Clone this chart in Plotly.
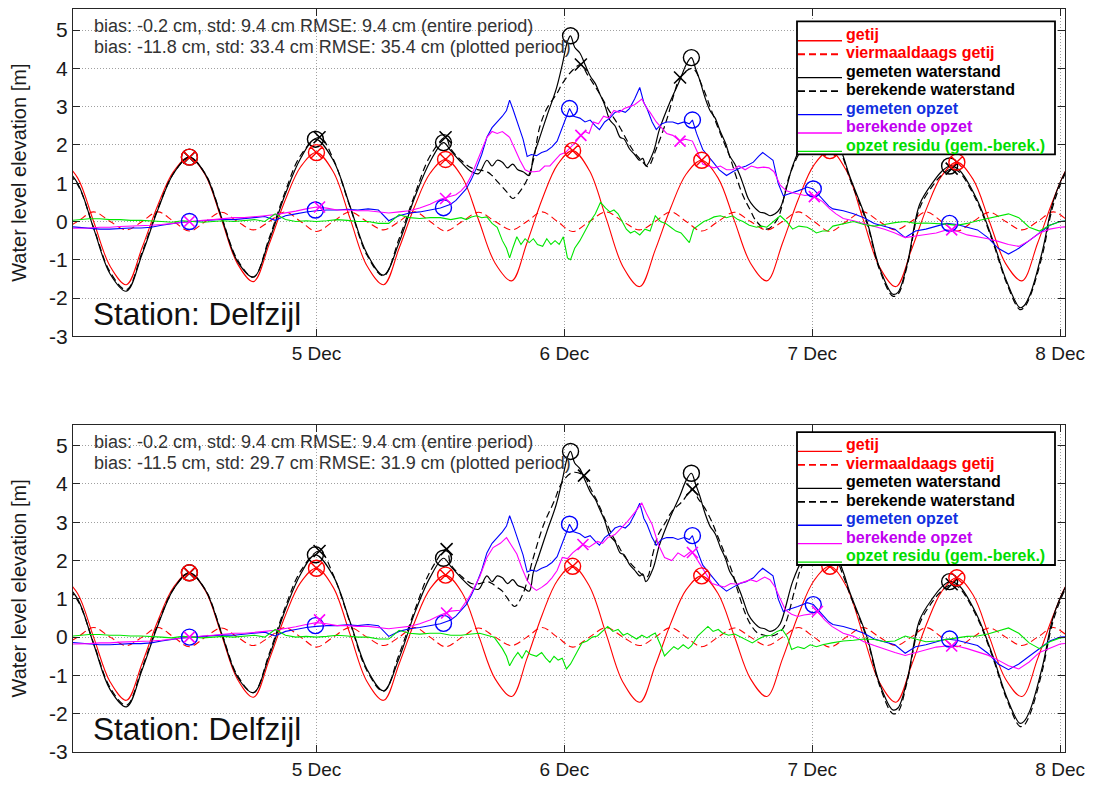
import pandas as pd
import plotly.graph_objects as go

# ------------------------------------------------------------------
# Data: hours since 4 Dec 2013 00:00 (MET), water levels in metres
# ------------------------------------------------------------------
T0 = pd.Timestamp("2013-12-04 00:00")

# astronomical tide (getij) and its quarter-diurnal component
getij_uur = [-0.7, 0.875, 2.45, 4.025, 5.6, 7.125, 8.65, 10.175,
             11.7, 13.25, 14.8, 16.35, 17.9, 19.425, 20.95, 22.475,
             24.0, 25.625, 27.25, 28.875, 30.5, 32.0, 33.5, 35.0,
             36.5, 38.1, 39.7, 41.3, 42.9, 44.375, 45.85, 47.325,
             48.8, 50.425, 52.05, 53.675, 55.3, 56.8, 58.3, 59.8,
             61.3, 62.875, 64.45, 66.025, 67.6, 69.125, 70.65, 72.175,
             73.7, 75.3, 76.9, 78.5, 80.1, 81.575, 83.05, 84.525,
             86.0, 87.575, 89.15, 90.725, 92.3, 93.825, 95.35, 96.875,
             98.4]
getij = [1.62, 1.14, -0.02, -1.17, -1.65, -0.68, 0.43, 1.31,
         1.68, 1.21, 0.06, -1.10, -1.57, -0.59, 0.54, 1.43,
         1.80, 1.30, 0.08, -1.15, -1.65, -0.70, 0.39, 1.26,
         1.62, 1.16, 0.04, -1.09, -1.55, -0.56, 0.58, 1.48,
         1.85, 1.33, 0.08, -1.18, -1.70, -0.74, 0.36, 1.24,
         1.60, 1.14, 0.03, -1.09, -1.55, -0.56, 0.58, 1.48,
         1.85, 1.33, 0.08, -1.18, -1.70, -0.76, 0.33, 1.19,
         1.55, 1.10, 0.00, -1.10, -1.55, -0.56, 0.58, 1.48,
         1.85]
viermaaldaags = [-0.25, 0.0, 0.25, 0.0, -0.22, 0.0, 0.25, 0.0,
                 -0.25, 0.0, 0.24, 0.0, -0.22, 0.0, 0.25, 0.0,
                 -0.26, 0.0, 0.25, 0.0, -0.22, 0.0, 0.25, 0.0,
                 -0.25, 0.0, 0.24, 0.0, -0.22, 0.0, 0.25, 0.0,
                 -0.26, 0.0, 0.25, 0.0, -0.22, 0.0, 0.25, 0.0,
                 -0.25, 0.0, 0.24, 0.0, -0.22, 0.0, 0.25, 0.0,
                 -0.26, 0.0, 0.25, 0.0, -0.22, 0.0, 0.25, 0.0,
                 -0.25, 0.0, 0.24, 0.0, -0.22, 0.0, 0.25, 0.0,
                 -0.26]

# measured water level (gemeten waterstand)
gemeten_waterstand = [
    (-0.7, 1.50), (0.875, 1.00), (2.45, -0.20), (4.025, -1.37), (5.6, -1.82),
    (7.125, -0.85), (8.65, 0.31), (10.175, 1.26), (11.7, 1.68), (13.25, 1.23),
    (14.8, 0.11), (16.35, -1.04), (17.9, -1.45), (19.425, -0.49), (20.95, 0.69),
    (22.475, 1.65), (23.9, 2.15), (25.625, 1.60), (27.25, 0.40), (28.875, -0.83),
    (30.5, -1.40), (32.0, -0.55), (33.5, 0.62), (35.0, 1.56), (36.3, 2.06),
    (37.0, 1.85), (38.0, 1.55), (39.0, 1.30), (39.7, 1.25), (40.5, 1.60),
    (41.0, 1.45), (41.5, 1.60), (42.0, 1.55), (42.5, 1.40), (43.0, 1.50),
    (43.5, 1.35), (44.0, 1.30), (44.6, 1.20), (45.0, 1.70), (45.5, 2.10),
    (46.3, 2.75), (47.2, 3.45), (47.8, 4.10), (48.3, 4.70), (48.6, 4.85),
    (49.0, 4.55), (49.5, 4.40), (50.0, 4.10), (50.5, 3.80), (51.0, 3.60),
    (51.4, 3.35), (51.9, 3.05), (52.4, 2.65), (52.9, 2.50), (53.4, 2.20),
    (53.8, 2.15), (54.3, 1.90), (54.8, 1.75), (55.3, 1.60), (55.6, 1.65),
    (55.9, 1.45), (56.6, 1.80), (57.2, 2.40), (58.2, 3.10), (59.2, 3.70),
    (59.8, 4.10), (60.3, 4.28), (60.7, 4.00), (61.1, 3.70), (61.6, 3.25),
    (62.1, 2.90), (62.6, 2.70), (63.1, 2.35), (63.6, 2.05), (64.0, 1.72),
    (64.5, 1.50), (65.0, 1.20), (65.4, 0.90), (65.8, 0.60), (66.3, 0.40),
    (66.9, 0.25), (67.4, 0.22), (67.9, 0.15), (68.4, 0.20), (68.9, 0.35),
    (70.1, 1.45), (71.0, 2.00), (72.0, 2.30), (73.2, 2.40), (74.2, 2.20),
    (75.0, 1.70), (75.6, 1.20), (77.3, 0.00), (78.5, -1.20), (79.8, -1.90),
    (80.3, -1.85), (81.2, -1.10), (82.4, 0.45), (83.7, 1.03), (84.5, 1.30),
    (85.3, 1.45), (86.2, 1.35), (87.9, 0.60), (89.5, -0.50), (90.8, -1.55),
    (92.1, -2.25), (92.5, -2.20), (93.1, -1.90), (94.3, -0.75), (95.3, 0.50),
    (96.5, 1.30), (97.5, 1.70)]

# computed water level (berekende waterstand): common start, then per model run
berekende_waterstand_begin = [
    (-0.7, 1.44), (0.875, 0.96), (2.45, -0.18), (4.025, -1.32), (5.6, -1.78),
    (7.125, -0.80), (8.65, 0.34), (10.175, 1.26), (11.7, 1.67), (13.25, 1.24),
    (14.8, 0.13), (16.35, -1.00), (17.9, -1.45), (19.425, -0.43), (20.95, 0.76),
    (22.475, 1.73)]
berekende_waterstand_run1 = [
    (24.3, 2.20), (25.625, 1.63), (27.25, 0.38), (28.875, -0.87), (30.5, -1.42),
    (32.0, -0.45), (33.5, 0.69), (35.0, 1.71), (36.5, 2.20),
    (37.0, 1.90), (38.0, 1.60), (39.0, 1.40), (39.7, 1.35), (40.5, 1.30),
    (41.0, 1.20), (41.5, 1.05), (42.0, 0.90), (42.5, 0.75), (43.0, 0.60),
    (43.6, 0.75), (44.4, 1.10), (45.0, 1.60), (45.6, 2.45), (46.3, 2.95),
    (47.3, 3.35), (47.8, 3.60), (48.8, 3.95), (49.6, 4.10), (50.2, 3.85),
    (50.8, 3.60), (51.5, 3.30), (52.1, 3.00), (52.8, 2.70), (53.4, 2.45),
    (54.0, 2.15), (54.6, 1.88), (55.1, 1.70), (55.6, 1.55), (56.1, 1.43),
    (56.9, 1.90), (57.9, 2.65), (58.7, 3.40), (59.2, 3.76), (60.4, 4.00),
    (61.4, 3.50), (62.1, 3.00), (62.8, 2.50), (63.4, 2.10), (64.0, 1.70),
    (64.6, 1.20), (65.3, 0.67), (66.0, 0.30), (66.6, 0.00), (67.6, -0.20),
    (68.6, 0.05), (69.8, 1.20), (71.0, 1.90), (72.0, 2.20), (73.2, 2.35),
    (74.2, 2.15), (75.0, 1.65), (75.6, 1.15), (77.3, -0.05), (78.5, -1.25),
    (79.8, -1.95), (80.3, -1.90), (81.2, -1.15), (82.4, 0.35), (83.7, 0.95),
    (84.5, 1.20), (85.5, 1.38), (86.2, 1.30), (87.9, 0.55), (89.5, -0.55),
    (90.8, -1.60), (92.1, -2.30), (92.5, -2.25), (93.1, -1.95), (94.3, -0.85),
    (95.3, 0.40), (96.5, 1.25), (97.5, 1.65)]
berekende_waterstand_run2 = [
    (24.3, 2.25), (25.625, 1.63), (27.25, 0.38), (28.875, -0.87), (30.5, -1.42),
    (32.0, -0.45), (33.5, 0.69), (35.0, 1.71), (36.6, 2.30),
    (37.0, 1.90), (38.0, 1.60), (39.0, 1.40), (39.8, 1.40), (40.5, 1.45),
    (41.0, 1.40), (41.5, 1.30), (42.0, 1.20), (42.4, 1.05), (43.2, 0.80),
    (44.0, 1.14), (45.0, 2.08), (46.0, 2.94), (47.0, 3.54), (47.8, 4.05),
    (48.8, 4.30), (49.9, 4.22), (50.5, 3.90), (51.2, 3.54), (51.9, 3.10),
    (52.6, 2.68), (53.2, 2.40), (53.9, 2.08), (54.5, 1.90), (55.1, 1.74),
    (56.0, 1.57), (56.5, 2.10), (57.1, 2.68), (57.8, 3.00), (58.4, 3.28),
    (59.4, 3.54), (60.4, 3.86), (61.0, 3.60), (61.6, 3.37), (62.3, 3.00),
    (62.9, 2.60), (63.5, 2.20), (64.2, 1.74), (64.8, 1.20), (65.5, 0.63),
    (66.1, 0.30), (66.7, 0.11), (67.4, 0.05), (68.1, 0.03), (69.1, 0.20),
    (70.3, 1.22), (71.0, 1.85), (72.0, 2.15), (73.2, 2.30), (74.2, 2.10),
    (75.0, 1.60), (75.6, 1.15), (77.3, -0.05), (78.5, -1.25), (79.8, -2.00),
    (80.3, -1.95), (81.2, -1.15), (82.4, 0.35), (83.7, 0.95), (84.5, 1.20),
    (85.5, 1.38), (86.2, 1.30), (87.9, 0.55), (89.5, -0.55), (90.8, -1.60),
    (92.1, -2.33), (92.5, -2.30), (93.1, -2.00), (94.3, -0.85), (95.3, 0.40),
    (96.5, 1.25), (97.5, 1.65)]

# measured surge (gemeten opzet)
gemeten_opzet = [
    (0, -0.13), (1, -0.15), (2, -0.17), (3, -0.20), (4, -0.20), (5, -0.18),
    (6, -0.17), (7, -0.17), (8, -0.15), (9, -0.10), (10, -0.05), (11, -0.02),
    (12, 0.00), (13, 0.02), (14, 0.04), (15, 0.06), (16, 0.05), (17, 0.08),
    (18, 0.10), (19, 0.13), (20, 0.03), (21, 0.15), (22, 0.20), (23, 0.25),
    (24, 0.28), (25, 0.30), (26, 0.30), (27, 0.32), (28, 0.30), (29, 0.33),
    (30, 0.30), (31, 0.02), (32, 0.15), (33, 0.22), (34, 0.25), (35, 0.30),
    (36, 0.35), (37, 0.45), (37.5, 0.55), (38, 0.70), (38.5, 0.85), (39, 1.10),
    (39.5, 1.40), (40, 1.75), (40.5, 2.20), (41, 2.45), (41.5, 2.60), (42, 2.75),
    (42.4, 2.90), (42.7, 3.17), (43.0, 2.95), (43.4, 2.65), (44.0, 2.15),
    (44.4, 1.70), (44.8, 1.75), (45.3, 1.72), (45.8, 1.80), (46.3, 1.85),
    (46.8, 1.95), (47.3, 2.10), (47.7, 2.40), (48.1, 2.65), (48.5, 2.95),
    (48.9, 2.75), (49.5, 2.70), (50.0, 2.60), (50.5, 2.65), (51.0, 2.50),
    (51.4, 2.40), (51.9, 2.60), (52.4, 2.70), (52.9, 2.85), (53.4, 2.90),
    (53.9, 2.85), (54.3, 2.95), (54.8, 3.20), (55.3, 3.50), (55.7, 3.10),
    (56.0, 2.95), (56.5, 2.60), (56.9, 2.40), (57.4, 2.55), (57.9, 2.60),
    (58.5, 2.60), (59.0, 2.55), (59.6, 2.60), (60.1, 2.55), (60.4, 2.65),
    (60.8, 2.30), (61.4, 1.88), (61.9, 1.70), (62.4, 1.55), (63.0, 1.35),
    (63.7, 1.20), (64.3, 1.30), (65.0, 1.40), (65.6, 1.45), (66.3, 1.55),
    (66.8, 1.70), (67.2, 1.80), (67.7, 1.70), (68.2, 1.60), (68.7, 1.00),
    (69.2, 0.67), (69.7, 0.72), (70.1, 0.75), (70.6, 0.80), (71.1, 0.85),
    (71.5, 0.90), (72.1, 0.85), (72.6, 0.70), (73.1, 0.55), (73.6, 0.40),
    (74.0, 0.33), (75, 0.28), (76, 0.20), (77, 0.10), (78, -0.05), (79, -0.12),
    (80, -0.20), (81, -0.42), (82, -0.25), (83, -0.20), (84, -0.12), (85, -0.05),
    (86, -0.08), (87, -0.15), (88, -0.22), (89, -0.42), (90, -0.70), (91, -0.85),
    (92, -0.70), (93, -0.50), (94, -0.30), (95, -0.10), (96, 0.00), (97, 0.02)]

# computed surge (berekende opzet)
berekende_opzet_begin = [
    (0, -0.18), (1, -0.18), (2, -0.17), (3, -0.15), (4, -0.15), (5, -0.13),
    (6, -0.12), (7, -0.12), (8, -0.10), (9, -0.08), (10, -0.05), (11, -0.02),
    (12, 0.00), (13, 0.03), (14, 0.05), (15, 0.08), (16, 0.10), (17, 0.10),
    (18, 0.12), (19, 0.15), (20, 0.18), (21, 0.22), (22, 0.27), (23, 0.33),
    (24, 0.38), (25, 0.35), (26, 0.30), (27, 0.30), (28, 0.28), (29, 0.28),
    (30, 0.25), (31, 0.22), (32, 0.25), (33, 0.28), (34, 0.35), (35, 0.45),
    (36, 0.58)]
berekende_opzet_run1 = [
    (37, 0.65), (37.5, 0.70), (38, 0.80), (38.5, 0.95), (39, 1.20), (39.5, 1.55),
    (40, 1.90), (40.5, 2.20), (41, 2.35), (41.5, 2.30), (42, 2.35), (42.4, 2.25),
    (42.7, 2.20), (43.2, 1.90), (43.7, 1.60), (44.2, 1.35), (44.6, 1.30),
    (45.1, 1.30), (45.6, 1.32), (46.1, 1.45), (46.6, 1.45), (47.1, 1.60),
    (47.6, 1.75), (48.1, 1.80), (48.5, 1.90), (49.0, 2.05), (49.6, 2.25),
    (50.0, 2.35), (50.4, 2.30), (50.8, 2.60), (51.3, 2.55), (51.8, 2.75),
    (52.3, 2.70), (52.8, 2.90), (53.3, 2.85), (53.8, 2.95), (54.3, 3.00),
    (54.8, 3.05), (55.5, 3.20), (56.0, 2.95), (56.3, 2.85), (56.9, 2.60),
    (57.4, 2.45), (57.9, 2.30), (58.5, 2.25), (59.2, 2.10), (59.7, 2.15),
    (60.4, 2.10), (60.9, 1.80), (61.4, 1.50), (61.9, 1.45), (62.5, 1.40),
    (63.1, 1.45), (63.7, 1.35), (64.3, 1.35), (64.9, 1.45), (65.5, 1.35),
    (66.1, 1.45), (66.7, 1.40), (67.3, 1.42), (67.8, 1.40), (68.3, 1.30),
    (68.9, 0.95), (69.5, 0.80), (70.1, 0.75), (70.7, 0.72), (71.3, 0.68),
    (71.8, 0.70), (72.2, 0.65), (73.0, 0.52), (73.7, 0.33), (74.3, 0.20),
    (75, 0.08), (76, 0.02), (77, -0.05), (78, -0.12), (79, -0.20), (80, -0.30),
    (81, -0.42), (82, -0.38), (83, -0.33), (84, -0.30), (85, -0.22), (86, -0.25),
    (87, -0.35), (88, -0.40), (89, -0.45), (90, -0.52), (91, -0.60), (92, -0.65),
    (93, -0.50), (94, -0.30), (95, -0.20), (96, -0.15), (97, -0.13)]
berekende_opzet_run2 = [
    (37, 0.68), (37.9, 0.70), (38.8, 1.05), (39.8, 1.57), (40.5, 2.08),
    (41.1, 2.34), (41.8, 2.45), (42.4, 2.60), (42.9, 2.40), (43.4, 2.17),
    (43.9, 1.80), (44.4, 1.48), (44.9, 1.30), (45.3, 1.22), (45.8, 1.30),
    (46.3, 1.40), (46.8, 1.55), (47.3, 1.74), (47.8, 2.08), (48.3, 2.05),
    (48.8, 2.20), (49.3, 2.30), (49.8, 2.42), (50.4, 2.35), (51.2, 2.50),
    (51.7, 2.45), (52.2, 2.60), (52.9, 2.68), (53.5, 2.85), (54.1, 3.02),
    (54.8, 3.25), (55.5, 3.50), (56.0, 3.20), (56.5, 2.94), (57.1, 2.42),
    (57.7, 2.08), (58.4, 2.00), (59.0, 2.20), (59.6, 2.10), (60.3, 2.25),
    (60.8, 2.05), (61.3, 1.83), (61.8, 1.60), (62.3, 1.40), (62.9, 1.35),
    (63.5, 1.31), (64.1, 1.40), (64.7, 1.38), (65.5, 1.45), (66.0, 1.50),
    (66.6, 1.45), (67.4, 1.57), (67.9, 1.50), (68.4, 1.31), (68.9, 1.00),
    (69.4, 0.71), (70.0, 0.60), (70.6, 0.54), (71.2, 0.58), (71.8, 0.60),
    (72.5, 0.67), (73.2, 0.45), (73.9, 0.28), (75, 0.10), (76, 0.02),
    (77, -0.12), (78, -0.22), (79, -0.32), (80, -0.40), (81, -0.48), (82, -0.40),
    (83, -0.32), (84, -0.26), (85, -0.23), (86, -0.23), (87, -0.30), (88, -0.38),
    (89, -0.47), (90, -0.60), (91, -0.75), (92, -0.83), (93, -0.65), (94, -0.40),
    (95, -0.28), (96, -0.18), (97, -0.15)]

# surge residual (opzet residu, gemeten - berekend)
opzet_residu_begin = [
    (0, 0.02), (1, 0.05), (2, 0.07), (3, 0.07), (4, 0.05), (5, 0.05), (6, 0.03),
    (7, 0.03), (8, 0.02), (9, 0.00), (10, -0.02), (11, 0.02), (12, 0.00),
    (13, -0.02), (14, 0.00), (15, 0.02), (16, 0.00), (17, 0.02), (18, 0.05),
    (19, 0.00), (20, 0.20), (21, 0.05), (22, 0.00), (23, 0.02), (24, 0.00),
    (25, 0.02), (26, 0.05), (27, 0.03), (28, 0.00), (29, 0.00), (30, -0.05),
    (31, -0.05), (32, 0.18), (33, 0.10), (34, 0.08), (35, 0.10), (36, 0.10)]
opzet_residu_run1 = [
    (37, 0.05), (37.5, 0.08), (38, 0.10), (38.5, 0.05), (39, 0.12), (39.5, 0.15),
    (40, 0.10), (40.5, 0.12), (41, -0.05), (41.5, -0.15), (42, -0.50),
    (42.4, -0.70), (42.7, -0.95), (43, -0.70), (43.4, -0.40), (43.8, -0.60),
    (44.2, -0.45), (44.6, -0.55), (45, -0.45), (45.4, -0.60), (45.9, -0.65),
    (46.3, -0.45), (46.7, -0.60), (47.1, -0.50), (47.5, -0.60), (47.9, -0.40),
    (48.3, -0.95), (48.6, -1.00), (49.0, -0.70), (49.5, -0.50), (50, -0.25),
    (50.5, 0.00), (51, 0.20), (51.5, 0.50), (52, 0.35), (52.4, 0.25), (52.8, 0.30),
    (53.2, 0.20), (53.6, 0.00), (54, -0.20), (54.4, -0.30), (54.8, -0.25),
    (55.3, -0.35), (55.8, -0.20), (56.3, -0.25), (56.8, 0.15), (57.3, 0.00),
    (57.8, -0.05), (58.3, -0.15), (58.8, -0.25), (59.3, -0.30), (59.8, -0.45),
    (60.1, -0.55), (60.5, -0.20), (61, -0.10), (61.5, 0.00), (62, 0.05),
    (62.5, 0.12), (63.1, 0.15), (63.7, 0.10), (64.3, 0.15), (64.8, 0.05),
    (65.3, 0.00), (65.9, -0.10), (66.6, -0.15), (67.1, -0.12), (67.6, -0.15),
    (68.2, 0.00), (68.9, 0.15), (69.5, 0.00), (70.1, -0.20), (70.7, -0.12),
    (71.5, -0.15), (72.0, -0.22), (72.4, -0.30), (73.0, -0.25), (73.5, -0.25),
    (74.0, -0.12), (75, -0.05), (76, 0.00), (77, -0.08), (78, -0.12), (79, -0.08),
    (80, -0.03), (81, 0.00), (82, -0.05), (83, -0.04), (84, -0.05), (85, -0.07),
    (86, -0.10), (87, -0.05), (88, 0.02), (89, 0.08), (90, 0.15), (91, 0.20),
    (92, 0.10), (93, -0.15), (94, -0.25), (95, -0.10), (96, 0.00), (97, 0.02)]
opzet_residu_run2 = [
    (37, 0.05), (38, 0.05), (39, 0.08), (39.8, 0.10), (40.5, 0.05), (41.2, 0.00),
    (41.6, -0.15), (42.0, -0.30), (42.4, -0.50), (42.7, -0.75), (43.1, -0.55),
    (43.5, -0.40), (43.9, -0.55), (44.3, -0.35), (44.7, -0.45), (45.3, -0.50),
    (45.8, -0.40), (46.2, -0.55), (46.6, -0.66), (47.0, -0.50), (47.4, -0.60),
    (47.8, -0.55), (48.2, -0.83), (48.6, -0.70), (49.2, -0.40), (49.7, -0.15),
    (50.2, -0.10), (50.7, 0.00), (51.2, 0.03), (51.7, 0.15), (52.2, 0.28),
    (52.7, 0.15), (53.2, 0.20), (53.7, 0.05), (54.1, 0.10), (54.5, 0.03),
    (55.0, -0.05), (55.5, 0.05), (56.0, -0.02), (56.4, 0.05), (56.8, 0.11),
    (57.3, -0.20), (57.7, -0.49), (58.2, -0.35), (58.6, -0.25), (59.0, -0.32),
    (59.5, -0.20), (60.0, -0.30), (60.3, -0.23), (60.9, 0.03), (61.4, 0.15),
    (61.9, 0.28), (62.4, 0.15), (62.9, 0.20), (63.3, 0.11), (63.9, 0.05),
    (64.5, 0.08), (65.1, 0.00), (65.6, -0.05), (66.2, -0.15), (66.8, -0.05),
    (67.4, 0.03), (68.0, 0.05), (68.6, 0.15), (69.1, 0.20), (69.6, 0.00),
    (70.0, -0.32), (70.6, -0.25), (71.2, -0.30), (71.8, -0.20), (72.4, -0.25),
    (73.0, -0.20), (73.9, -0.15), (75, -0.10), (76, -0.08), (77, -0.05),
    (78, -0.06), (79, -0.12), (80, -0.10), (81, 0.03), (82, -0.05), (83, -0.12),
    (84, -0.10), (85, -0.05), (86, -0.02), (87, 0.02), (88, 0.03), (89, 0.08),
    (90, 0.15), (91, 0.24), (92, 0.10), (93, -0.15), (94, -0.30), (95, -0.12),
    (96, -0.02), (97, 0.00)]

# peak markers
hw_getij_uur = [11.7, 24.0, 36.5, 48.8, 61.3, 73.7, 86.0]
hw_getij = [1.68, 1.80, 1.62, 1.85, 1.60, 1.85, 1.55]
piek_gemeten_uur = [11.7, 23.9, 36.3, 48.6, 60.3, 73.2, 85.3]
piek_gemeten = [1.68, 2.15, 2.06, 4.85, 4.28, 2.40, 1.45]
opzet_gemeten_uur = [11.7, 23.9, 36.3, 48.5, 60.4, 72.1, 85.3]
opzet_gemeten = [0.00, 0.30, 0.36, 2.95, 2.65, 0.85, -0.05]
piek_berekend_run1_uur = [11.7, 24.3, 36.5, 49.6, 59.2, 73.2, 85.5]
piek_berekend_run1 = [1.67, 2.20, 2.20, 4.10, 3.76, 2.35, 1.38]
opzet_berekend_run1_uur = [11.7, 24.3, 36.5, 49.6, 59.2, 72.2, 85.5]
opzet_berekend_run1 = [0.00, 0.38, 0.60, 2.25, 2.10, 0.65, -0.22]
piek_berekend_run2_uur = [11.7, 24.3, 36.6, 49.9, 60.4, 73.2, 85.5]
piek_berekend_run2 = [1.67, 2.25, 2.30, 4.22, 3.86, 2.30, 1.38]
opzet_berekend_run2_uur = [11.7, 24.3, 36.6, 49.8, 60.4, 72.5, 85.5]
opzet_berekend_run2 = [0.00, 0.45, 0.63, 2.42, 2.21, 0.67, -0.23]

statistiek_run1 = ["bias: -0.2 cm, std: 9.4 cm RMSE: 9.4 cm (entire period)",
                   "bias: -11.8 cm, std: 33.4 cm RMSE: 35.4 cm (plotted period)"]
statistiek_run2 = ["bias: -0.2 cm, std: 9.4 cm RMSE: 9.4 cm (entire period)",
                   "bias: -11.5 cm, std: 29.7 cm RMSE: 31.9 cm (plotted period)"]
station = "Station: Delfzijl"
dag_ticks = ["2013-12-05", "2013-12-06", "2013-12-07", "2013-12-08"]
dag_labels = ["5 Dec", "6 Dec", "7 Dec", "8 Dec"]
y_ticks = [-3, -2, -1, 0, 1, 2, 3, 4, 5]
y_labels = ["-3", "-2", "-1", "0", "1", "2", "3", "4", "5"]


# ------------------------------------------------------------------
def tijd(uren):
    return [T0 + pd.Timedelta(hours=h) for h in uren]


def paren(p):
    return tijd([a for a, _ in p]), [b for _, b in p]


RED, BLACK, BLUE, MAGENTA, GREEN = "#ff0000", "#000000", "#0000ff", "#ff00ff", "#00e600"
FONT = "Liberation Sans, Arial, Helvetica, sans-serif"
W, H = 1098, 788
ML, MR, MT, MB = 73, 33, 8, 31
PW, PH = W - ML - MR, H - MT - MB


def fx(px):
    return (px - ML) / PW


def fy(py):
    return (H - MB - py) / PH


fig = go.Figure()


def lijn(x, y, kleur, xa, ya, dash=None, width=1.1, shape="linear"):
    fig.add_trace(go.Scatter(x=x, y=y, mode="lines", xaxis=xa, yaxis=ya,
                             line=dict(color=kleur, width=width, dash=dash, shape=shape),
                             showlegend=False, hoverinfo="skip"))


def punten(x, y, kleur, symbol, size, xa, ya, lw=1.4):
    fig.add_trace(go.Scatter(x=tijd(x), y=y, mode="markers", xaxis=xa, yaxis=ya,
                             marker=dict(symbol=symbol, size=size, color=kleur,
                                         line=dict(color=kleur, width=lw)),
                             showlegend=False, hoverinfo="skip"))


def paneel(xa, ya, ber_ws, ber_opzet, residu, piek_b_t, piek_b, opz_b_t, opz_b):
    lijn(tijd(getij_uur), getij, RED, xa, ya, shape="spline")
    lijn(tijd(getij_uur), viermaaldaags, RED, xa, ya, dash="7px,4px", shape="spline")
    gx, gy = paren(gemeten_waterstand)
    lijn(gx, gy, BLACK, xa, ya, width=1.2, shape="spline")
    bx, by = paren(ber_ws)
    lijn(bx, by, BLACK, xa, ya, dash="7px,4px", width=1.2, shape="spline")
    ox, oy = paren(gemeten_opzet)
    lijn(ox, oy, BLUE, xa, ya)
    mx, my = paren(ber_opzet)
    lijn(mx, my, MAGENTA, xa, ya)
    rx, ry = paren(residu)
    lijn(rx, ry, GREEN, xa, ya)
    punten(piek_gemeten_uur, piek_gemeten, BLACK, "circle-open", 16, xa, ya)
    punten(piek_b_t, piek_b, BLACK, "x-thin-open", 12, xa, ya, lw=1.6)
    punten(hw_getij_uur, hw_getij, RED, "circle-x-open", 16, xa, ya)
    punten(opzet_gemeten_uur, opzet_gemeten, BLUE, "circle-open", 16, xa, ya)
    punten(opz_b_t, opz_b, MAGENTA, "x-thin-open", 11, xa, ya, lw=1.6)


paneel("x", "y", berekende_waterstand_begin + berekende_waterstand_run1,
       berekende_opzet_begin + berekende_opzet_run1,
       opzet_residu_begin + opzet_residu_run1,
       piek_berekend_run1_uur, piek_berekend_run1,
       opzet_berekend_run1_uur, opzet_berekend_run1)
paneel("x2", "y2", berekende_waterstand_begin + berekende_waterstand_run2,
       berekende_opzet_begin + berekende_opzet_run2,
       opzet_residu_begin + opzet_residu_run2,
       piek_berekend_run2_uur, piek_berekend_run2,
       opzet_berekend_run2_uur, opzet_berekend_run2)

x_range = [T0 + pd.Timedelta(hours=0.43), T0 + pd.Timedelta(hours=96.47)]
axis_common = dict(showline=True, linecolor="#262626", linewidth=1, mirror="ticks",
                   ticks="inside", ticklen=7, tickcolor="#262626",
                   showgrid=True, gridcolor="#a0a0a0", griddash="1px,2px", gridwidth=1,
                   zeroline=False, tickfont=dict(family=FONT, size=19, color="#1a1a1a"))
xax = dict(axis_common, type="date", range=x_range, tickvals=dag_ticks, ticktext=dag_labels)
yax = dict(axis_common, range=[-3, 5.55], tickvals=y_ticks, ticktext=y_labels,
           tickfont=dict(family=FONT, size=21, color="#1a1a1a"),
           title=dict(text="Water level elevation [m]", standoff=17,
                      font=dict(family=FONT, size=20, color="#1a1a1a")))

top_dom = [fy(338), 1.0]
bot_dom = [0.0, fy(427)]
fig.update_layout(
    width=W, height=H, margin=dict(l=ML, r=MR, t=MT, b=MB),
    paper_bgcolor="white", plot_bgcolor="white", showlegend=False,
    xaxis=dict(xax, domain=[0, 1], anchor="y"),
    yaxis=dict(yax, domain=top_dom, anchor="x"),
    xaxis2=dict(xax, domain=[0, 1], anchor="y2"),
    yaxis2=dict(yax, domain=bot_dom, anchor="x2"),
)

legenda = [("getij", RED, None), ("viermaaldaags getij", RED, "7px,4px"),
           ("gemeten waterstand", BLACK, None), ("berekende waterstand", BLACK, "7px,4px"),
           ("gemeten opzet", BLUE, None), ("berekende opzet", MAGENTA, None),
           ("opzet residu (gem.-berek.)", GREEN, None)]
LEG_TEXT = {RED: "#ff0000", BLACK: "#000000", BLUE: "#1030e0", MAGENTA: "#c000f0", GREEN: "#00dd00"}

shapes, annotations = [], []


def teken_paneel_tekst(top_px, stats, legend_top_px):
    for i, s in enumerate(stats):
        annotations.append(dict(x=fx(92), y=fy(top_px + 17.5 + 21 * i), xref="paper", yref="paper",
                                text=s, showarrow=False, xanchor="left", yanchor="middle",
                                font=dict(family=FONT, size=18, color="#333333")))
    annotations.append(dict(x=fx(91), y=fy(top_px + 307), xref="paper", yref="paper",
                            text=station, showarrow=False, xanchor="left", yanchor="middle",
                            font=dict(family=FONT, size=31.5, color="#111111")))
    shapes.append(dict(type="rect", xref="paper", yref="paper", layer="above",
                       x0=fx(797), x1=fx(1055), y0=fy(legend_top_px), y1=fy(legend_top_px + 134),
                       fillcolor="white", line=dict(color="black", width=1.8)))
    for i, (label, kleur, dash) in enumerate(legenda):
        yc = legend_top_px + 13 + 18.6 * i
        yl = yc + 1.5 if dash else yc + 6.5
        shapes.append(dict(type="line", xref="paper", yref="paper", layer="above",
                           x0=fx(798), x1=fx(842), y0=fy(yl), y1=fy(yl),
                           line=dict(color=kleur, width=1.3 if dash is None else 1.8, dash=dash)))
        annotations.append(dict(x=fx(844), y=fy(yc), xref="paper", yref="paper",
                                text="<b>%s</b>" % label, showarrow=False,
                                xanchor="left", yanchor="middle",
                                font=dict(family=FONT, size=16, color=LEG_TEXT[kleur])))


teken_paneel_tekst(8, statistiek_run1, 20.5)
teken_paneel_tekst(427, statistiek_run2, 434.5)
fig.update_layout(shapes=shapes, annotations=annotations)

fig.write_html("out.html")
